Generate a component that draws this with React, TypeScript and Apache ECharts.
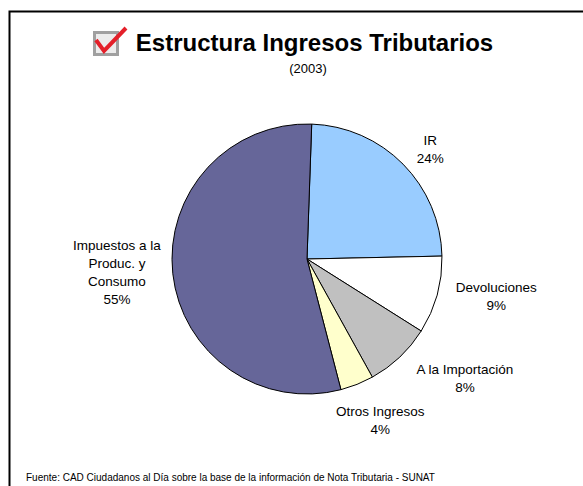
import React, { useEffect, useRef } from "react";
import * as echarts from "echarts";

const categories = [
  "IR",
  "Devoluciones",
  "A la Importación",
  "Otros Ingresos",
  "Impuestos a la\nProduc. y\nConsumo",
];
const values = [24.1, 9.3, 8.0, 4.0, 54.6];
const colors = ["#99CCFF", "#FFFFFF", "#C0C0C0", "#FFFFCC", "#666699"];
const titleText = "Estructura Ingresos Tributarios";
const subtitleText = "(2003)";
const sourceText =
  "Fuente: CAD Ciudadanos al Día sobre la base de la información de Nota Tributaria - SUNAT";

const FONT = "Arial, 'Liberation Sans', Helvetica, sans-serif";

// small label nudges (styling) to mimic Excel's label placement
const labelNudgeX = [3, 6, 6, -29, 1];
const labelNudgeY = [-9, -1, 16, 29, -2];

export default function App() {
  const ref = useRef<HTMLDivElement>(null);
  useEffect(() => {
    if (!ref.current) return;
    const chart = echarts.init(ref.current, null, { renderer: "svg" });
    chart.setOption({
      animation: false,
      backgroundColor: "#ffffff",
      graphic: [
        {
          type: "rect",
          shape: { x: 9.5, y: 11.5, width: 700, height: 600 },
          style: { fill: "none", stroke: "#000", lineWidth: 2 },
          silent: true,
        },
        {
          type: "rect",
          shape: { x: 94.5, y: 32.5, width: 23, height: 22 },
          style: { fill: "#ececec", stroke: "#a0a0a0", lineWidth: 3 },
        },
        {
          type: "polyline",
          shape: { points: [[96, 40], [104, 51], [126, 28]] },
          style: { stroke: "#e4202a", lineWidth: 4, fill: "none", lineJoin: "miter" },
        },
        {
          type: "text",
          x: 314.5,
          y: 42,
          style: {
            text: titleText,
            font: `bold 24px ${FONT}`,
            fill: "#000",
            textAlign: "center",
            textVerticalAlign: "middle",
          },
        },
        {
          type: "text",
          x: 308,
          y: 68,
          style: {
            text: subtitleText,
            font: `13px ${FONT}`,
            fill: "#000",
            textAlign: "center",
            textVerticalAlign: "middle",
          },
        },
        {
          type: "text",
          x: 26,
          y: 477,
          style: {
            text: sourceText,
            font: `10px ${FONT}`,
            fill: "#000",
            textAlign: "left",
            textVerticalAlign: "middle",
          },
        },
      ],
      series: [
        {
          type: "pie",
          center: [307, 259],
          radius: 135,
          startAngle: 88,
          clockwise: true,
          avoidLabelOverlap: false,
          itemStyle: { borderColor: "#000", borderWidth: 1 },
          label: {
            show: true,
            position: "outside",
            color: "#000",
            fontFamily: FONT,
            fontSize: 13.5,
            lineHeight: 18,
            formatter: (p: any) => `${p.name}\n${Math.round(p.percent)}%`,
          },
          labelLine: { show: false, length: 8, length2: 0 },
          labelLayout: (p: any) => ({
            x: p.labelRect.x + p.labelRect.width / 2 + (labelNudgeX[p.dataIndex] || 0),
            y: p.labelRect.y + p.labelRect.height / 2 + (labelNudgeY[p.dataIndex] || 0),
            align: "center",
            verticalAlign: "middle",
          }),
          data: categories.map((name, i) => ({
            name,
            value: values[i],
            itemStyle: { color: colors[i] },
          })),
        },
      ],
    });
    return () => chart.dispose();
  }, []);
  return (
    <div
      ref={ref}
      style={{ position: "absolute", left: 0, top: 0, width: 583, height: 486 }}
    />
  );
}
